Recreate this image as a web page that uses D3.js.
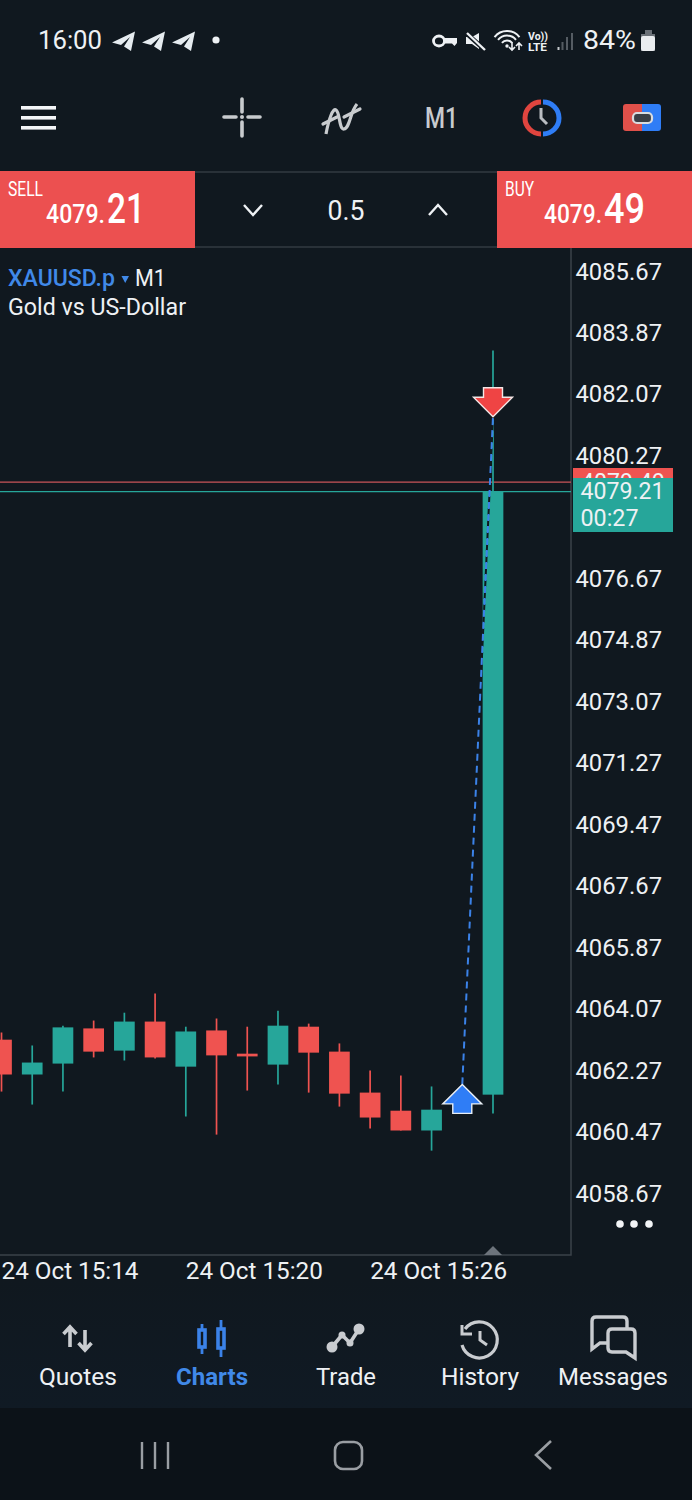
<!DOCTYPE html>
<html>
<head>
<meta charset="utf-8">
<script src="https://cdn.jsdelivr.net/npm/d3@7"></script>
<style>
  html, body { margin: 0; padding: 0; background: #10181f; }
  svg { display: block; }
  text { font-family: Roboto, sans-serif; }
</style>
</head>
<body>
<div id="chart"></div>
<script>
// candle minutes after 15:00 (15:29 has no candle)
const minutes = [14, 15, 16, 17, 18, 19, 20, 21, 22, 23, 24, 25, 26, 27, 28, 30];
const opens  = [4063.16, 4062.14, 4062.46, 4063.49, 4062.84, 4063.69, 4062.37, 4063.43, 4062.75, 4062.43, 4063.54, 4062.81, 4061.61, 4061.08, 4060.50, 4061.55];
const highs  = [4063.37, 4062.99, 4063.57, 4063.72, 4063.95, 4064.51, 4063.54, 4063.78, 4063.54, 4064.01, 4063.63, 4063.05, 4062.26, 4062.11, 4061.79, 4083.34];
const lows   = [4061.64, 4061.26, 4061.64, 4062.64, 4062.55, 4062.61, 4060.91, 4060.38, 4061.67, 4061.85, 4061.61, 4061.20, 4060.56, 4060.50, 4059.91, 4061.00];
const closes = [4062.14, 4062.49, 4063.52, 4062.81, 4063.69, 4062.64, 4063.40, 4062.70, 4062.67, 4063.57, 4062.78, 4061.58, 4060.88, 4060.50, 4061.11, 4079.21];

const priceTicks = [4085.67, 4083.87, 4082.07, 4080.27, 4076.67, 4074.87, 4073.07, 4071.27, 4069.47, 4067.67, 4065.87, 4064.07, 4062.27, 4060.47, 4058.67];
const timeTicks = [14, 20, 26];
const bid = 4079.21, ask = 4079.49;
const tradeOpen = { minute: 29, price: 4061.85 };
const tradeClose = { minute: 30, price: 4081.40 };
const tabs = ["Quotes", "Charts", "Trade", "History", "Messages"];

const teal = "#26a69a", red = "#ef5350", blue = "#4089e8", white = "#eef1f4", grey = "#c9ccd0";
const width = 692, height = 1500;
const plot = { left: 0, right: 571, top: 248, bottom: 1255 };

const when = m => new Date(2025, 9, 24, 15, m);

const x = d3.scaleTime().domain([when(14), when(30)]).range([1.5, 493]);
const y = d3.scaleLinear().domain([4085.67, 4058.67]).range([271, 1193]);
const bodyWidth = 20.7;

const svg = d3.select("#chart").append("svg").attr("width", width).attr("height", height);
svg.append("rect").attr("width", width).attr("height", height).attr("fill", "#10181f");

const defs = svg.append("defs");
const tabFade = defs.append("linearGradient").attr("id", "tab-fade").attr("x1", 0).attr("x2", 0).attr("y1", 0).attr("y2", 1);
tabFade.append("stop").attr("offset", 0).attr("stop-color", "#10181f");
tabFade.append("stop").attr("offset", 1).attr("stop-color", "#101a24");

// text helper, squeezes to the measured width when one is given
function label(parent, tx, ty, str, size, fill, opts = {}) {
  const t = parent.append("text").attr("x", tx).attr("y", ty)
    .attr("font-size", size).attr("fill", fill).text(str);
  if (opts.anchor) t.attr("text-anchor", opts.anchor);
  if (opts.weight) t.attr("font-weight", opts.weight);
  if (opts.w) t.attr("textLength", opts.w).attr("lengthAdjust", "spacingAndGlyphs");
  return t;
}

// ---- chart frame ----
svg.append("path").attr("d", `M0 ${plot.bottom}H${plot.right}V${plot.top}`)
  .attr("fill", "none").attr("stroke", "#3a4149").attr("stroke-width", 1.5);

const chart = svg.append("g");
defs.append("clipPath").attr("id", "plot-clip").append("rect")
  .attr("x", 0).attr("y", plot.top).attr("width", plot.right).attr("height", plot.bottom - plot.top);

// bid / ask lines
chart.append("line").attr("x1", 0).attr("x2", plot.right).attr("y1", y(ask)).attr("y2", y(ask))
  .attr("stroke", "#c9545a").attr("stroke-width", 1.3);
chart.append("line").attr("x1", 0).attr("x2", plot.right).attr("y1", y(bid)).attr("y2", y(bid))
  .attr("stroke", teal).attr("stroke-width", 1.1);

// candles
const candles = chart.append("g").attr("clip-path", "url(#plot-clip)")
  .selectAll("g").data(minutes).join("g");
const candleColor = (_, i) => closes[i] >= opens[i] ? teal : red;
candles.append("line")
  .attr("x1", d => x(when(d))).attr("x2", d => x(when(d)))
  .attr("y1", (_, i) => y(highs[i])).attr("y2", (_, i) => y(lows[i]))
  .attr("stroke", candleColor).attr("stroke-width", 1.7);
candles.append("rect")
  .attr("x", d => x(when(d)) - bodyWidth / 2).attr("width", bodyWidth)
  .attr("y", (_, i) => y(Math.max(opens[i], closes[i])))
  .attr("height", (_, i) => Math.abs(y(opens[i]) - y(closes[i])))
  .attr("fill", candleColor);

// trade line
const tx1 = x(when(tradeOpen.minute)), ty1 = y(tradeOpen.price);
const tx2 = x(when(tradeClose.minute)), ty2 = y(tradeClose.price);
chart.append("line").attr("x1", tx1).attr("y1", ty1).attr("x2", tx2).attr("y2", ty2)
  .attr("stroke", "#10181f").attr("stroke-width", 2).attr("stroke-dasharray", "7 5").attr("stroke-dashoffset", 6);
chart.append("line").attr("x1", tx1).attr("y1", ty1).attr("x2", tx2).attr("y2", ty2)
  .attr("stroke", "#3b82e8").attr("stroke-width", 2).attr("stroke-dasharray", "7 5");

// trade arrows
const arrowUp = "M0 0L19.5 19.5H9.5V29H-9.5V19.5H-19.5Z";
chart.append("path").attr("d", arrowUp).attr("transform", `translate(${tx1},${ty1})`)
  .attr("fill", "#2f7df6").attr("stroke", "#e8eef5").attr("stroke-width", 1.4);
chart.append("path").attr("d", arrowUp).attr("transform", `translate(${tx2},${ty2}) scale(1,-1)`)
  .attr("fill", "#ef4444").attr("stroke", "#f3e6e6").attr("stroke-width", 1.4);

// ---- axes ----
const yAxis = svg.append("g").attr("transform", "translate(575.5,0)")
  .call(d3.axisRight(y).tickValues(priceTicks).tickSize(0).tickPadding(0).tickFormat(d3.format(".2f")));
const xAxis = svg.append("g").attr("transform", `translate(0,${plot.bottom})`)
  .call(d3.axisBottom(x).tickValues(timeTicks.map(when)).tickSize(0).tickPadding(0)
    .tickFormat(d3.timeFormat("%d %b %H:%M")));
yAxis.select(".domain").remove();
xAxis.select(".domain").remove();
yAxis.selectAll("text").attr("font-size", 23).attr("fill", white).attr("font-family", "Roboto, sans-serif")
  .attr("x", 0).attr("dy", "0.35em").attr("textLength", 86.5).attr("lengthAdjust", "spacingAndGlyphs");
xAxis.selectAll("text").attr("font-size", 23).attr("fill", white).attr("font-family", "Roboto, sans-serif")
  .attr("text-anchor", "start").attr("y", 24).attr("dy", 0)
  .attr("dx", -0.5).attr("textLength", 137).attr("lengthAdjust", "spacingAndGlyphs");

// price tags
svg.append("rect").attr("x", 573).attr("y", 468).attr("width", 100).attr("height", 24).attr("fill", red);
label(svg, 581, y(ask) + 8, ask.toFixed(2), 23, white, { w: 84 });
svg.append("rect").attr("x", 573).attr("y", 478).attr("width", 100).attr("height", 54).attr("fill", teal);
label(svg, 580.5, 499, bid.toFixed(2), 23, white, { w: 84 });
label(svg, 580.5, 526, "00:27", 23, white, { w: 58 });

// dots and time marker
svg.selectAll(".more").data([620, 634, 649]).join("circle").attr("class", "more")
  .attr("cx", d => d).attr("cy", 1224).attr("r", 3.8).attr("fill", "#f2f4f6");
svg.append("path").attr("d", `M484 ${plot.bottom}L493 1246L502 ${plot.bottom}Z`).attr("fill", "#6d747c");

// symbol title
label(svg, 8, 286, "XAUUSD.p", 23, blue, { w: 107, weight: 500 });
svg.append("path").attr("d", "M121.5 276H129L125.2 283Z").attr("fill", blue);
label(svg, 135, 286, "M1", 23, white, { w: 31 });
label(svg, 8, 315, "Gold vs US-Dollar", 23, white, { w: 178 });

// ---- status bar ----
label(svg, 38, 49, "16:00", 26, white, { w: 64 });
const plane = "M135 31.5L112 42.5L121 45L130 37L124 46.5L131 51Z";
[0, 30, 60].forEach(dx => svg.append("path").attr("d", plane).attr("transform", `translate(${dx},0)`).attr("fill", "#e6ecf0"));
svg.append("circle").attr("cx", 216).attr("cy", 40).attr("r", 3.6).attr("fill", white);

// key
svg.append("ellipse").attr("cx", 439).attr("cy", 41).attr("rx", 5.5).attr("ry", 5).attr("fill", "none").attr("stroke", white).attr("stroke-width", 2.8);
svg.append("path").attr("d", "M445 38H457V43L454.5 46L452 43.5H445").attr("fill", white);
// mute
svg.append("path").attr("d", "M479 33V49L472 44H466V37H472Z").attr("fill", white);
svg.append("line").attr("x1", 465).attr("y1", 32).attr("x2", 486).attr("y2", 51).attr("stroke", "#10181f").attr("stroke-width", 4.5);
svg.append("line").attr("x1", 467).attr("y1", 33).attr("x2", 485).attr("y2", 50).attr("stroke", white).attr("stroke-width", 2.4);
// wifi
[16, 11.5, 6.5].forEach(r => {
  svg.append("path").attr("d", `M${507 - 0.78 * r} ${47 - 0.62 * r}A${r} ${r} 0 0 1 ${507 + 0.78 * r} ${47 - 0.62 * r}`)
    .attr("fill", "none").attr("stroke", white).attr("stroke-width", 2);
});
svg.append("circle").attr("cx", 507).attr("cy", 46).attr("r", 1.7).attr("fill", white);
svg.append("path").attr("d", "M512 42V50M509 47L512 50L515 47M519 50V43M516 46L519 43L522 46")
  .attr("fill", "none").attr("stroke", white).attr("stroke-width", 1.6);
// volte + signal
label(svg, 528, 40, "Vo))", 11, white, { w: 20, weight: 700 });
label(svg, 528, 51, "LTE", 11, white, { w: 19, weight: 700 });
[[557.5, 47], [561.5, 42], [566, 37], [571, 33]].forEach(d =>
  svg.append("rect").attr("x", d[0]).attr("y", d[1]).attr("width", 2).attr("height", 50 - d[1])
    .attr("fill", d[0] === 557.5 ? "#c5c9cd" : "#555c63"));
label(svg, 583, 49, "84%", 25, white, { w: 53 });
svg.append("path").attr("d", "M645 30H652V34H655V51H641V34H645Z").attr("fill", "#6a7077");
svg.append("rect").attr("x", 641).attr("y", 36).attr("width", 14).attr("height", 15).attr("rx", 2).attr("fill", "#e9ecef");

// ---- toolbar ----
[106, 116, 126].forEach(v => svg.append("rect").attr("x", 21).attr("y", v).attr("width", 35).attr("height", 3.6).attr("fill", "#f4f6f8"));
svg.append("path").attr("d", "M224 117H236M248 117H260M242 99V112M242 122V136")
  .attr("stroke", "#c8cbce").attr("stroke-width", 3.6).attr("stroke-linecap", "round");
svg.append("circle").attr("cx", 242).attr("cy", 117).attr("r", 2).attr("fill", "#c8cbce");
svg.append("path").attr("d", "M326 134C329 118 333 108 336 110C340 112 339 130 344 129C350 128 350 112 357 104")
  .attr("fill", "none").attr("stroke", "#c8cbce").attr("stroke-width", 3.2);
svg.append("path").attr("d", "M323 124L337 117M344 117L360 109")
  .attr("stroke", "#c8cbce").attr("stroke-width", 3.2).attr("stroke-linecap", "round");
label(svg, 425, 128, "M1", 29, "#c8cbce", { w: 33, weight: 500 });
// clock icon
svg.append("path").attr("d", "M542 102A16 16 0 0 0 542 134").attr("transform", "translate(-1,0)")
  .attr("fill", "none").attr("stroke", "#e0453f").attr("stroke-width", 5);
svg.append("path").attr("d", "M542 102A16 16 0 0 1 542 134").attr("transform", "translate(1,0)")
  .attr("fill", "none").attr("stroke", "#2f7df6").attr("stroke-width", 5);
svg.append("path").attr("d", "M541 108V118L547 124").attr("fill", "none").attr("stroke", "#b9bdc2").attr("stroke-width", 3);
// one click icon
svg.append("path").attr("d", "M642 104H626A3 3 0 0 0 623 107V128A3 3 0 0 0 626 131H642Z").attr("fill", "#e0504a");
svg.append("path").attr("d", "M642 104H658A3 3 0 0 1 661 107V128A3 3 0 0 1 658 131H642Z").attr("fill", "#2f7df6");
svg.append("rect").attr("x", 633).attr("y", 113).attr("width", 19).attr("height", 10).attr("rx", 4)
  .attr("fill", "#3a3f46").attr("stroke", "#d9dce0").attr("stroke-width", 2.2);

// ---- order bar ----
svg.append("rect").attr("x", 0).attr("y", 171).attr("width", 195).attr("height", 77).attr("fill", "#ec5050");
svg.append("rect").attr("x", 497).attr("y", 171).attr("width", 195).attr("height", 77).attr("fill", "#ec5050");
svg.append("path").attr("d", "M195 172H497M195 247H497").attr("stroke", "#323a42").attr("stroke-width", 1.6);
label(svg, 8, 196, "SELL", 20, "#fff", { w: 35 });
label(svg, 46, 223, "4079.", 26, "#fff", { w: 59, weight: 500 });
label(svg, 107, 223, "21", 43, "#fff", { w: 38, weight: 500 });
label(svg, 505, 196, "BUY", 20, "#fff", { w: 29 });
label(svg, 544, 223, "4079.", 26, "#fff", { w: 58, weight: 500 });
label(svg, 604, 223, "49", 43, "#fff", { w: 41, weight: 500 });
label(svg, 346, 220, "0.5", 27, white, { anchor: "middle", w: 37 });
svg.append("path").attr("d", "M244 205L253 215L262 205M429 215L438 205L447 215")
  .attr("fill", "none").attr("stroke", white).attr("stroke-width", 2.4);

// ---- bottom tabs ----
svg.append("rect").attr("x", 0).attr("y", 1280).attr("width", width).attr("height", 128).attr("fill", "url(#tab-fade)");
const tabX = [78, 212, 346, 480, 613];
const tabW = [78, 72, 60, 78, 110];
tabs.forEach((t, i) => label(svg, tabX[i], 1385, t, 23, i === 1 ? blue : white,
  { anchor: "middle", w: tabW[i], weight: i === 1 ? 700 : 400 }));

// quotes icon
svg.append("path").attr("d", "M70 1347V1327M63.5 1334L70 1327L76.5 1334M85 1330V1350M78.5 1343L85 1350L91.5 1343")
  .attr("fill", "none").attr("stroke", grey).attr("stroke-width", 3.6);
// charts icon, wicks stop at the hollow bodies
svg.append("path").attr("d", "M202 1324V1330M202 1347V1354M221 1320V1329M221 1348V1357").attr("stroke", "#3b82e8").attr("stroke-width", 2.8);
[[199, 1330, 17], [218, 1329, 19]].forEach(d => svg.append("rect").attr("x", d[0]).attr("y", d[1]).attr("width", 6).attr("height", d[2])
  .attr("fill", "none").attr("stroke", "#3b82e8").attr("stroke-width", 3.6));
// trade icon
svg.append("path").attr("d", "M332 1347L342 1335L350 1343L359 1329").attr("fill", "none").attr("stroke", grey).attr("stroke-width", 3.6);
[[332, 1347, 5.5], [342, 1335, 3.5], [350, 1343, 3.5], [359, 1329, 5.5]].forEach(d =>
  svg.append("circle").attr("cx", d[0]).attr("cy", d[1]).attr("r", d[2]).attr("fill", grey));
// history icon
svg.append("path").attr("d", "M465 1329A18 18 0 1 1 462 1345").attr("fill", "none").attr("stroke", grey).attr("stroke-width", 3.2);
svg.append("path").attr("d", "M462 1325V1334H472M480 1331V1340L487 1345").attr("fill", "none").attr("stroke", grey).attr("stroke-width", 3);
// messages icon
svg.append("path").attr("d", "M608 1343H600L592 1349V1321Q592 1317 596 1317H623Q627 1317 627 1321V1329")
  .attr("fill", "none").attr("stroke", grey).attr("stroke-width", 3.4);
svg.append("path").attr("d", "M612 1329H631Q635 1329 635 1333V1358L626 1352H612Q608 1352 608 1348V1333Q608 1329 612 1329Z")
  .attr("fill", "none").attr("stroke", grey).attr("stroke-width", 3.4);

// ---- android nav bar ----
svg.append("rect").attr("x", 0).attr("y", 1408).attr("width", width).attr("height", 92).attr("fill", "#0c1218");
svg.append("path").attr("d", "M142 1442V1469M155 1442V1469M168 1442V1469").attr("stroke", "#9a9ea3").attr("stroke-width", 2.4);
svg.append("rect").attr("x", 335).attr("y", 1442).attr("width", 27).attr("height", 27).attr("rx", 8)
  .attr("fill", "none").attr("stroke", "#9a9ea3").attr("stroke-width", 2.6);
svg.append("path").attr("d", "M551 1441L536 1455L551 1469").attr("fill", "none").attr("stroke", "#9a9ea3").attr("stroke-width", 2.6);
</script>
</body>
</html>
